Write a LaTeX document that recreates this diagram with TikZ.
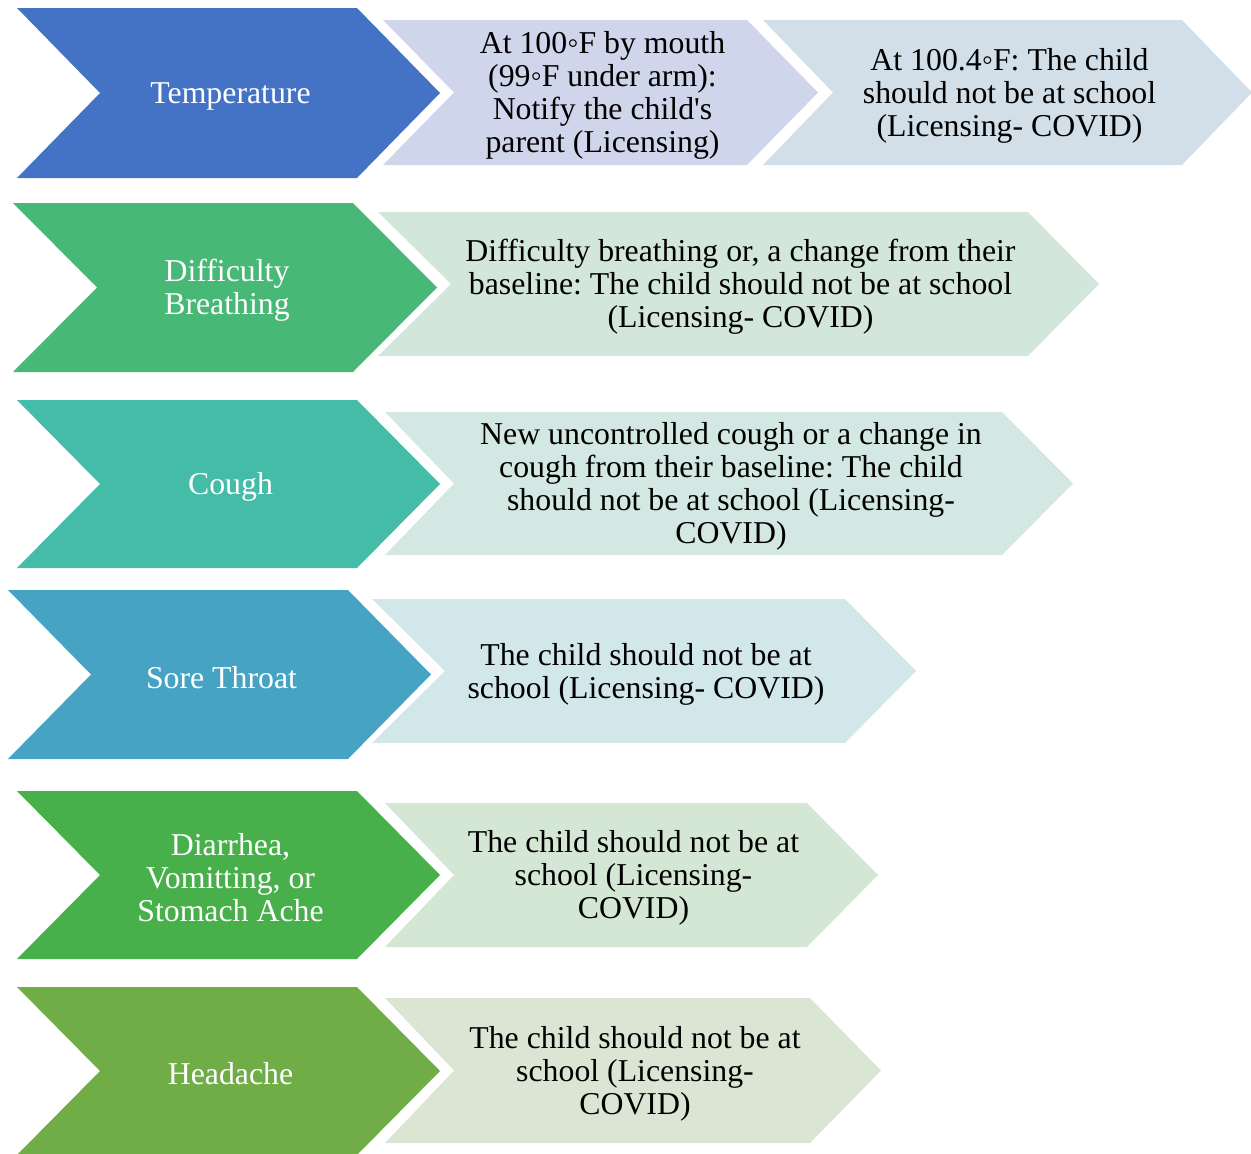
\documentclass[tikz,border=0pt]{standalone}
\usepackage{fontspec}
\setmainfont{Liberation Serif}
\frenchspacing
\definecolor{cTemp}{HTML}{4472C4}
\definecolor{cTempA}{HTML}{CFD5EA}
\definecolor{cTempB}{HTML}{D2DFE9}
\definecolor{cBreath}{HTML}{48B877}
\definecolor{cBreathL}{HTML}{D3E6DB}
\definecolor{cCough}{HTML}{45BCA8}
\definecolor{cCoughL}{HTML}{D3E8E3}
\definecolor{cSore}{HTML}{46A3C3}
\definecolor{cSoreL}{HTML}{D2E7EA}
\definecolor{cDiar}{HTML}{48B04A}
\definecolor{cDiarL}{HTML}{D4E7D4}
\definecolor{cHead}{HTML}{70AD47}
\definecolor{cHeadL}{HTML}{DAE6D3}
\tikzset{
  dk/.style={fill=#1, text=white},
  lt/.style={fill=#1, text=black},
  lbl/.style={align=center, inner sep=0pt, fill=none, font=\fontsize{31.8}{33}\selectfont\frenchspacing}
}
% #1 name, #2 x left, #3 y top, #4 x of shoulder, #5 y bottom, #6 tip x, #7 notch x, #8 style, #9 text
\newcommand\chevronshape[9]{%
  \pgfmathsetmacro\cmid{(#3+#5)/2}%
  \pgfmathsetmacro\cyy{(#3+#5)/2+3}%
  \pgfmathsetmacro\cxx{(#2+#6)/2+2}%
  \fill[#8] (#2,#3) -- (#4,#3) -- (#6,\cmid) -- (#4,#5) -- (#2,#5) -- (#7,\cmid) -- cycle;
  \node[#8, lbl] (#1) at (\cxx,\cyy) {#9};
}
\begin{document}
\begin{tikzpicture}[x=1pt,y=-1pt]
\useasboundingbox (0,0) rectangle (1251,1154);
% Row 1
\chevronshape{tempB}{763}{20}{1182}{165}{1252}{833}{lt=cTempB}{At 100.4◦F: The child\\should not be at school\\(Licensing- COVID)}
\chevronshape{tempA}{383}{20}{747}{165}{818}{454}{lt=cTempA}{At 100◦F by mouth\\(99◦F under arm):\\Notify the child\textquotesingle s\\parent (Licensing)}
\chevronshape{temp}{17}{8}{357}{178}{440}{100}{dk=cTemp}{Temperature}
% Row 2
\chevronshape{breathL}{378}{212}{1028}{356}{1099}{451}{lt=cBreathL}{Difficulty breathing or, a change from their\\baseline: The child should not be at school\\(Licensing- COVID)}
\chevronshape{breath}{13}{203}{353}{372}{437}{97}{dk=cBreath}{Difficulty\\Breathing}
% Row 3
\chevronshape{coughL}{385}{412}{1002}{555}{1073}{454}{lt=cCoughL}{New uncontrolled cough or a change in\\cough from their baseline: The child\\should not be at school (Licensing-\\COVID)}
\chevronshape{cough}{17}{400}{357}{568}{440}{100}{dk=cCough}{Cough}
% Row 4
\chevronshape{soreL}{372}{599}{845}{743}{916}{445}{lt=cSoreL}{The child should not be at\\school (Licensing- COVID)}
\chevronshape{sore}{8}{590}{348}{759}{431}{91}{dk=cSore}{Sore Throat}
% Row 5
\chevronshape{diarL}{385}{803}{807}{947}{878}{454}{lt=cDiarL}{The child should not be at\\school (Licensing-\\COVID)}
\chevronshape{diar}{17}{791}{357}{959}{440}{100}{dk=cDiar}{Diarrhea,\\Vomitting, or\\Stomach Ache}
% Row 6
\chevronshape{headL}{385}{998}{810}{1143}{881}{454}{lt=cHeadL}{The child should not be at\\school (Licensing-\\COVID)}
\chevronshape{head}{17}{987}{357}{1155}{440}{100}{dk=cHead}{Headache}
\end{tikzpicture}
\end{document}
